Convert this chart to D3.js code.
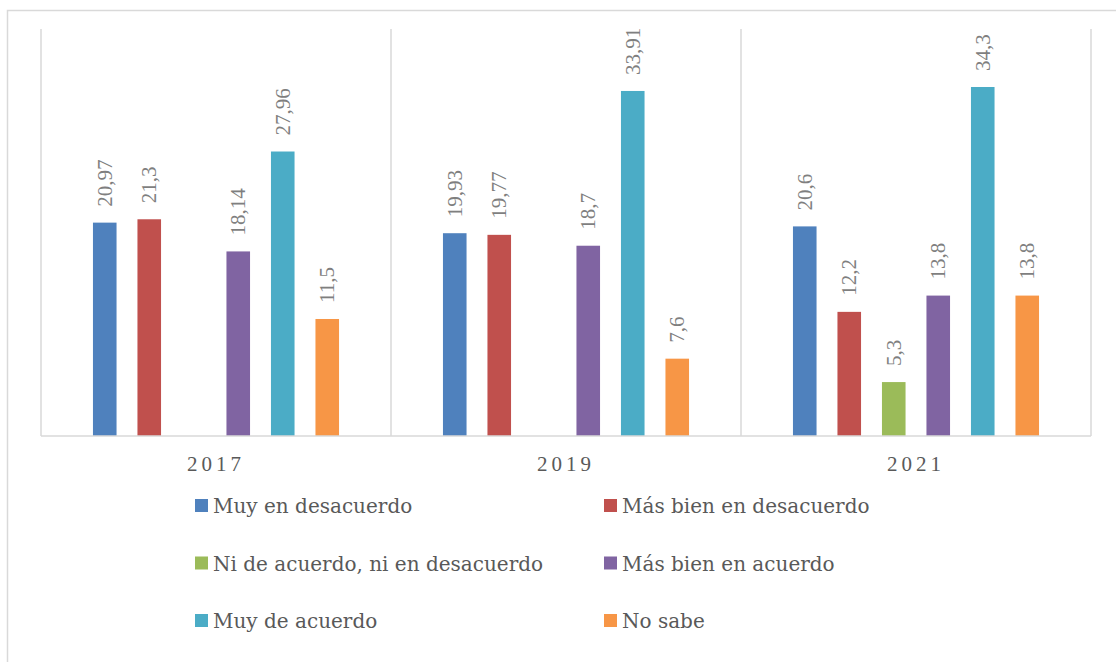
<!DOCTYPE html>
<html>
<head>
<meta charset="utf-8">
<script src="https://cdn.jsdelivr.net/npm/d3@7"></script>
<style>
  body { margin: 0; background: #fff; }
  svg { display: block; }
  text { font-family: "Liberation Serif", "DejaVu Serif", serif; }
  text.legtxt { font-family: "DejaVu Serif", serif; }
</style>
</head>
<body>
<svg id="chart" width="1116" height="662"></svg>
<script>
// data
var years  = ["2017", "2019", "2021"];
var series = ["Muy en desacuerdo", "Más bien en desacuerdo", "Ni de acuerdo, ni en desacuerdo",
              "Más bien en acuerdo", "Muy de acuerdo", "No sabe"];
var colors = ["#4F81BD", "#C0504D", "#9BBB59", "#8064A2", "#4BACC6", "#F79646"];
var v2017 = [20.97, 21.3, null, 18.14, 27.96, 11.5];
var v2019 = [19.93, 19.77, null, 18.7, 33.91, 7.6];
var v2021 = [20.6, 12.2, 5.3, 13.8, 34.3, 13.8];
var values = [v2017, v2019, v2021];

var svg = d3.select('#chart');

// outer frame (only left + top edges show)
svg.append('rect')
  .attr('x', 7.5).attr('y', 10.5)
  .attr('width', 1130).attr('height', 700)
  .attr('fill', 'none').attr('stroke', '#d9d9d9').attr('stroke-width', 1.5);

var plotL = 41, plotR = 1091, plotT = 29, plotB = 436;

var x0 = d3.scaleBand().domain(years).range([plotL, plotR]);
var x1 = d3.scaleBand().domain(series)
  .range([x0.bandwidth()/2 - 133.5, x0.bandwidth()/2 + 133.5])
  .paddingInner(0.47).paddingOuter(0.235);
var y = d3.scaleLinear().domain([0, 40]).range([plotB, plotT]);

// group separators
var seps = [plotL].concat(years.map(function(d){ return x0(d) + x0.bandwidth(); }));
svg.selectAll('line.sep').data(seps).enter().append('line')
  .attr('class', 'sep')
  .attr('x1', function(d){ return d; }).attr('x2', function(d){ return d; })
  .attr('y1', plotT).attr('y2', plotB)
  .attr('stroke', '#d9d9d9').attr('stroke-width', 1.5);

// bars
var groups = svg.selectAll('g.grp').data(years).enter().append('g')
  .attr('class', 'grp')
  .attr('transform', function(d){ return 'translate(' + x0(d) + ',0)'; });

groups.each(function(yr, gi) {
  var rows = series.map(function(s, i){ return {s: s, v: values[gi][i], c: colors[i]}; })
                   .filter(function(d){ return d.v !== null; });
  var g = d3.select(this);
  g.selectAll('rect').data(rows).enter().append('rect')
    .attr('x', function(d){ return x1(d.s); })
    .attr('width', x1.bandwidth())
    .attr('y', function(d){ return y(d.v); })
    .attr('height', function(d){ return plotB - y(d.v); })
    .attr('fill', function(d){ return d.c; });
  g.selectAll('text.lbl').data(rows).enter().append('text')
    .attr('class', 'lbl')
    .attr('transform', function(d){
      return 'translate(' + (x1(d.s) + x1.bandwidth()/2 + 7) + ',' + (y(d.v) - 16) + ') rotate(-90)';
    })
    .attr('text-anchor', 'start')
    .attr('font-size', 21)
    .attr('fill', '#7f7f7f')
    .text(function(d){ return String(d.v).replace('.', ','); });
});

// baseline
svg.append('line')
  .attr('x1', plotL).attr('x2', plotR).attr('y1', plotB).attr('y2', plotB)
  .attr('stroke', '#d9d9d9').attr('stroke-width', 1.5);

// x axis labels
svg.selectAll('text.yr').data(years).enter().append('text')
  .attr('class', 'yr')
  .attr('x', function(d){ return x0(d) + x0.bandwidth()/2; })
  .attr('y', 471)
  .attr('text-anchor', 'middle')
  .attr('font-size', 21)
  .attr('letter-spacing', 4)
  .attr('fill', '#595959')
  .text(function(d){ return d; });

// legend
var legX = [195, 604];
var legY = [499, 556.5, 614];
var leg = svg.selectAll('g.leg').data(series).enter().append('g')
  .attr('class', 'leg')
  .attr('transform', function(d, i){ return 'translate(' + legX[i % 2] + ',' + legY[Math.floor(i/2)] + ')'; });
leg.append('rect')
  .attr('width', 13).attr('height', 13)
  .attr('fill', function(d, i){ return colors[i]; });
leg.append('text')
  .attr('class', 'legtxt')
  .attr('x', 18).attr('y', 14)
  .attr('font-size', 20)
  .attr('fill', '#595959')
  .text(function(d){ return d; });
</script>
</body>
</html>
